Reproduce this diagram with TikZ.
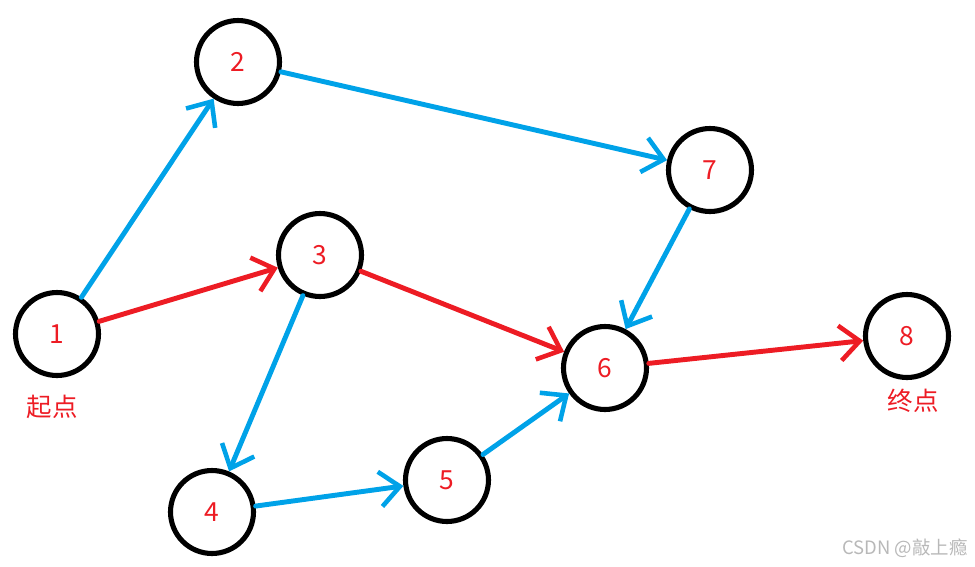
\documentclass[tikz,border=0pt]{standalone}
\usepackage{fontspec}
\setmainfont{Noto Sans CJK SC}
\usetikzlibrary{arrows.meta, positioning}
\definecolor{paintred}{RGB}{237,28,36}
\definecolor{paintblue}{RGB}{0,162,232}

\begin{document}
\begin{tikzpicture}[x=0.02cm, y=-0.02cm,
    vtx/.style={draw, circle, line width=2.9pt, minimum size=1.66cm, inner sep=0pt, text=paintred, font=\fontsize{15}{15}\selectfont},
    blu/.style={-{Straight Barb[length=4mm, width=7mm, line width=2.6pt]}, line width=2.8pt, paintblue, line cap=round},
    rd/.style={-{Straight Barb[length=4mm, width=7mm, line width=2.6pt]}, line width=2.8pt, paintred, line cap=round},
    tag/.style={text=paintred, font=\fontsize{14.5}{14.5}\selectfont},
]
    \useasboundingbox (0,0) rectangle (975,566);
    \node[vtx] (n1) at (57,334) {1};
    \node[vtx] (n2) at (238,62) {2};
    \node[vtx] (n3) at (320,255) {3};
    \node[vtx] (n4) at (212,512) {4};
    \node[vtx] (n5) at (447,480) {5};
    \node[vtx] (n6) at (605,368) {6};
    \node[vtx] (n7) at (710,170) {7};
    \node[vtx] (n8) at (907,336) {8};

    \node[tag] (start) at (52,407) {起点};
    \node[tag] (end) at (913,401) {终点};
    \node[text=black!28, font=\fontsize{10.5}{10.5}\selectfont] (mark) at (905,548) {CSDN @敲上瘾};

    \draw[blu] (n1) -- (n2);
    \draw[rd] (n1) -- (n3);
    \draw[blu] (n2) -- (n7);
    \draw[blu] (n3) -- (n4);
    \draw[rd] (n3) -- (n6);
    \draw[blu] (n4) -- (n5);
    \draw[blu] (n5) -- (n6);
    \draw[blu] (n7) -- (n6);
    \draw[rd] (n6) -- (n8);
\end{tikzpicture}
\end{document}
